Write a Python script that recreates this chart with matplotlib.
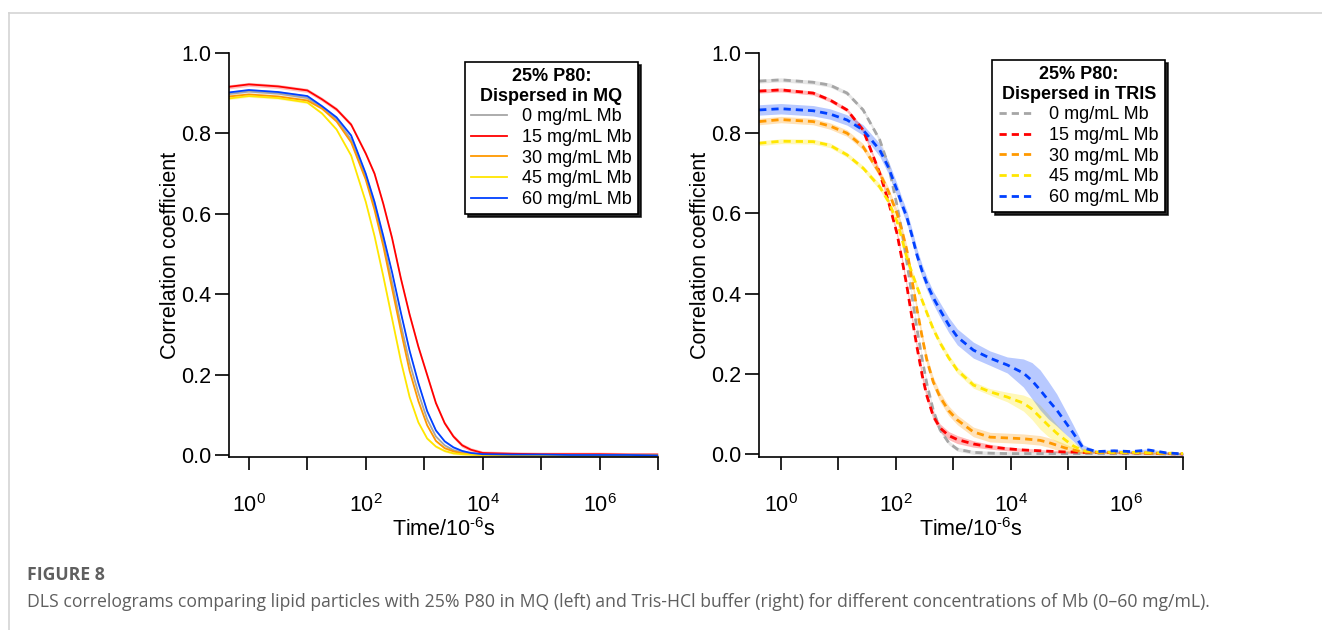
import matplotlib
matplotlib.use("Agg")
import matplotlib.pyplot as plt
import numpy as np
from matplotlib.lines import Line2D
from matplotlib.ticker import FixedLocator, FixedFormatter

plt.rcParams['font.family'] = ['Liberation Sans', 'DejaVu Sans']
plt.rcParams['mathtext.fontset'] = 'custom'
plt.rcParams['mathtext.rm'] = 'Liberation Sans'

# --- data ---
labels = ['0 mg/mL Mb', '15 mg/mL Mb', '30 mg/mL Mb', '45 mg/mL Mb', '60 mg/mL Mb']
colors = ['#a6a6a6', '#ff0000', '#ff9900', '#ffe600', '#0040ff']

# left panel: dispersed in MQ  (log10 of time in 10^-6 s)
mq_logt = [-0.34, 0, 0.5, 1.0, 1.25, 1.5, 1.75, 2.0, 2.15, 2.3, 2.45, 2.6, 2.75, 2.9,
           3.05, 3.2, 3.35, 3.5, 3.65, 3.8, 4.0, 4.5, 5.0, 5.5, 6.0, 6.5, 7.0]
mq_0 = [0.898, 0.904, 0.899, 0.888, 0.864, 0.835, 0.785, 0.69, 0.62, 0.53, 0.43, 0.325, 0.23, 0.155,
        0.09, 0.047, 0.025, 0.013, 0.007, 0.004, 0.002, 0.002, 0.001, 0.001, 0.001, 0.001, 0.0]
mq_15 = [0.916, 0.922, 0.917, 0.907, 0.885, 0.86, 0.822, 0.75, 0.70, 0.625, 0.54, 0.44, 0.35, 0.27,
         0.20, 0.13, 0.08, 0.047, 0.025, 0.014, 0.006, 0.004, 0.003, 0.003, 0.003, 0.002, 0.002]
mq_30 = [0.892, 0.897, 0.892, 0.882, 0.862, 0.83, 0.778, 0.685, 0.61, 0.52, 0.415, 0.31, 0.21, 0.135,
         0.075, 0.036, 0.018, 0.01, 0.005, 0.003, 0.001, 0.001, 0.001, 0.001, 0.001, 0.0, 0.0]
mq_45 = [0.887, 0.893, 0.888, 0.877, 0.85, 0.81, 0.745, 0.63, 0.545, 0.445, 0.34, 0.235, 0.145, 0.082,
         0.042, 0.022, 0.011, 0.005, 0.003, 0.002, 0.001, 0.001, 0.001, 0.0, 0.0, 0.0, 0.0]
mq_60 = [0.902, 0.908, 0.903, 0.893, 0.868, 0.84, 0.795, 0.70, 0.63, 0.545, 0.455, 0.355, 0.26, 0.18,
         0.11, 0.062, 0.035, 0.02, 0.011, 0.006, 0.003, 0.002, 0.002, 0.001, 0.001, 0.001, 0.0]
mq_err = [0.003, 0.005, 0.003, 0.003, 0.003]

# right panel: dispersed in TRIS
tr_logt = [-0.38, 0, 0.56, 0.85, 1.15, 1.43, 1.72, 1.87, 2.02, 2.1, 2.19, 2.28, 2.37, 2.46,
           2.54, 2.65, 2.77, 2.92, 3.07, 3.35, 3.64, 3.94, 4.22, 4.37, 4.51, 4.65, 4.8, 4.95,
           5.09, 5.26, 5.5, 5.8, 6.1, 6.4, 6.7, 7.0]
tr_0 = [0.930, 0.933, 0.927, 0.920, 0.900, 0.858, 0.783, 0.72, 0.62, 0.56, 0.48, 0.395, 0.31, 0.235,
        0.175, 0.11, 0.06, 0.028, 0.012, 0.004, 0.002, 0.001, 0.001, 0.001, 0.001, 0.001, 0.001, 0.001,
        0.001, 0.001, 0.001, 0.001, 0.001, 0.001, 0.0, 0.0]
tr_15 = [0.905, 0.908, 0.900, 0.883, 0.858, 0.808, 0.700, 0.63, 0.55, 0.49, 0.42, 0.34, 0.265, 0.195,
         0.145, 0.095, 0.065, 0.046, 0.036, 0.025, 0.018, 0.013, 0.010, 0.009, 0.008, 0.007, 0.006, 0.005,
         0.005, 0.004, 0.004, 0.003, 0.003, 0.002, 0.001, 0.0]
tr_30 = [0.829, 0.834, 0.829, 0.818, 0.800, 0.766, 0.700, 0.655, 0.60, 0.56, 0.509, 0.435, 0.359, 0.29,
         0.234, 0.18, 0.142, 0.108, 0.085, 0.055, 0.042, 0.040, 0.038, 0.036, 0.034, 0.029, 0.022, 0.015,
         0.010, 0.005, 0.004, 0.003, 0.003, 0.002, 0.002, 0.001]
tr_45 = [0.775, 0.780, 0.779, 0.770, 0.746, 0.713, 0.666, 0.63, 0.58, 0.54, 0.49, 0.452, 0.416, 0.382,
         0.352, 0.312, 0.277, 0.24, 0.209, 0.172, 0.155, 0.142, 0.127, 0.112, 0.092, 0.072, 0.052, 0.035,
         0.020, 0.008, 0.005, 0.004, 0.004, 0.003, 0.002, 0.001]
tr_60 = [0.858, 0.861, 0.856, 0.848, 0.833, 0.808, 0.758, 0.715, 0.658, 0.625, 0.591, 0.545, 0.495, 0.455,
         0.425, 0.39, 0.359, 0.322, 0.292, 0.259, 0.239, 0.222, 0.202, 0.183, 0.160, 0.135, 0.110, 0.080,
         0.052, 0.015, 0.006, 0.008, 0.006, 0.010, 0.003, 0.0]

tr_err_0 = [0.005] * 36
tr_err_15 = [0.005, 0.005, 0.005, 0.005, 0.005, 0.006, 0.007, 0.007, 0.008, 0.008, 0.008, 0.009,
             0.009, 0.01, 0.01, 0.01, 0.01, 0.01, 0.01, 0.008, 0.006, 0.005, 0.004, 0.004,
             0.003, 0.003, 0.003, 0.003, 0.003, 0.002, 0.002, 0.002, 0.002, 0.002, 0.002, 0.002]
tr_err_30 = [0.008, 0.008, 0.008, 0.008, 0.008, 0.008, 0.01, 0.01, 0.01, 0.012, 0.012, 0.012,
             0.012, 0.012, 0.012, 0.012, 0.012, 0.012, 0.012, 0.012, 0.012, 0.012, 0.012, 0.012,
             0.012, 0.012, 0.012, 0.01, 0.006, 0.004, 0.002, 0.002, 0.002, 0.002, 0.002, 0.002]
tr_err_45 = [0.006, 0.006, 0.006, 0.006, 0.006, 0.006, 0.008, 0.008, 0.008, 0.008, 0.008, 0.008,
             0.008, 0.008, 0.008, 0.008, 0.008, 0.008, 0.008, 0.008, 0.008, 0.012, 0.02, 0.026,
             0.03, 0.028, 0.022, 0.015, 0.01, 0.005, 0.002, 0.002, 0.002, 0.002, 0.002, 0.002]
tr_err_60 = [0.013, 0.013, 0.013, 0.013, 0.013, 0.013, 0.016, 0.016, 0.016, 0.016, 0.016, 0.016,
             0.016, 0.016, 0.016, 0.016, 0.018, 0.019, 0.02, 0.02, 0.018, 0.02, 0.035, 0.045,
             0.05, 0.047, 0.04, 0.03, 0.02, 0.008, 0.003, 0.003, 0.003, 0.003, 0.003, 0.003]

decades = [0, 1, 2, 3, 4, 5, 6, 7]
decade_labels = [r'$\mathdefault{10^{0}}$', '', r'$\mathdefault{10^{2}}$', '',
                 r'$\mathdefault{10^{4}}$', '', r'$\mathdefault{10^{6}}$', '']


def style_axis(ax, xmin, ymin):
    ax.set_xscale('log')
    ax.set_xlim(10 ** xmin, 1e7)
    ax.set_ylim(ymin, 1.0)
    for s in ['top', 'right']:
        ax.spines[s].set_visible(False)
    for s in ['left', 'bottom']:
        ax.spines[s].set_linewidth(1.2)
    ax.xaxis.set_major_locator(FixedLocator([10.0 ** d for d in decades]))
    ax.xaxis.set_major_formatter(FixedFormatter(decade_labels))
    ax.xaxis.set_minor_locator(FixedLocator([]))
    ax.set_yticks([0.0, 0.2, 0.4, 0.6, 0.8, 1.0])
    ax.set_yticklabels(['0.0', '0.2', '0.4', '0.6', '0.8', '1.0'])
    ax.tick_params(axis='y', direction='out', length=10, width=1.2, labelsize=15.5, pad=3)
    ax.tick_params(axis='x', direction='out', length=9.5, width=1.2, labelsize=15.5, pad=17)
    ax.set_ylabel('Correlation coefficient', fontsize=15.5, labelpad=0)
    ax.set_xlabel(r'Time/10$^{\text{-6}}$s', fontsize=15.5, labelpad=1)


fig = plt.figure(figsize=(13.22, 6.30), dpi=100)

ax1 = fig.add_axes([229 / 1322, 1 - 457 / 630, (658 - 229) / 1322, (457 - 53) / 630])
ax2 = fig.add_axes([759 / 1322, 1 - 457 / 630, (1183 - 759) / 1322, (457 - 53) / 630])

t_mq = 10.0 ** np.array(mq_logt)
mq_series = [mq_0, mq_15, mq_30, mq_45, mq_60]
for y, c, lab, e in zip(mq_series, colors, labels, mq_err):
    y = np.array(y)
    ax1.fill_between(t_mq, y - e, y + e, color=c, alpha=0.25, lw=0)
    ax1.plot(t_mq, y, color=c, lw=1.3, label=lab, solid_joinstyle='round')

t_tr = 10.0 ** np.array(tr_logt)
tr_series = [tr_0, tr_15, tr_30, tr_45, tr_60]
tr_errs = [tr_err_0, tr_err_15, tr_err_30, tr_err_45, tr_err_60]
for y, c, lab, e in zip(tr_series, colors, labels, tr_errs):
    y = np.array(y)
    e = np.array(e)
    ax2.fill_between(t_tr, y - e, y + e, color=c, alpha=0.28, lw=0)
    ax2.plot(t_tr, y, color=c, lw=2.0, ls=(0, (2.6, 1.8)), label=lab)

style_axis(ax1, -0.34, -0.004)
style_axis(ax2, -0.383, -0.0075)

for ax, title, anchor in [(ax1, '25% P80:\nDispersed in MQ', (0.953, 0.978)),
                          (ax2, '25% P80:\nDispersed in TRIS', (0.958, 0.983))]:
    leg = ax.legend(loc='upper right', bbox_to_anchor=anchor, borderaxespad=0,
                    fontsize=13, title=title, title_fontproperties={'weight': 'bold', 'size': 13},
                    frameon=True, fancybox=False, shadow={'color': 'black', 'alpha': 0.85},
                    handlelength=2.0, handletextpad=0.8, labelspacing=0.2,
                    borderpad=0.35, framealpha=1)
    leg.get_title().set_multialignment('center')
    leg.get_frame().set_edgecolor('black')
    leg.get_frame().set_linewidth(1.2)

# page frame lines
fig.add_artist(Line2D([9 / 1322, 1], [1 - 13 / 630, 1 - 13 / 630], color='#d4d4d4', lw=1.2))
fig.add_artist(Line2D([9 / 1322, 9 / 1322], [0, 1 - 13 / 630], color='#d4d4d4', lw=1.2))

fig.text(27 / 1322, 1 - 575 / 630, 'FIGURE 8', fontsize=12.7, fontweight='bold', color='#5f5f5f',
         family='Open Sans', va='center', ha='left')
fig.text(27 / 1322, 1 - 602 / 630,
         'DLS correlograms comparing lipid particles with 25% P80 in MQ (left) and Tris-HCl buffer (right) '
         'for different concentrations of Mb (0\u201360 mg/mL).',
         fontsize=12.7, color='#5f5f5f', family='Open Sans', va='center', ha='left')

fig.savefig('out.png', dpi=100)
